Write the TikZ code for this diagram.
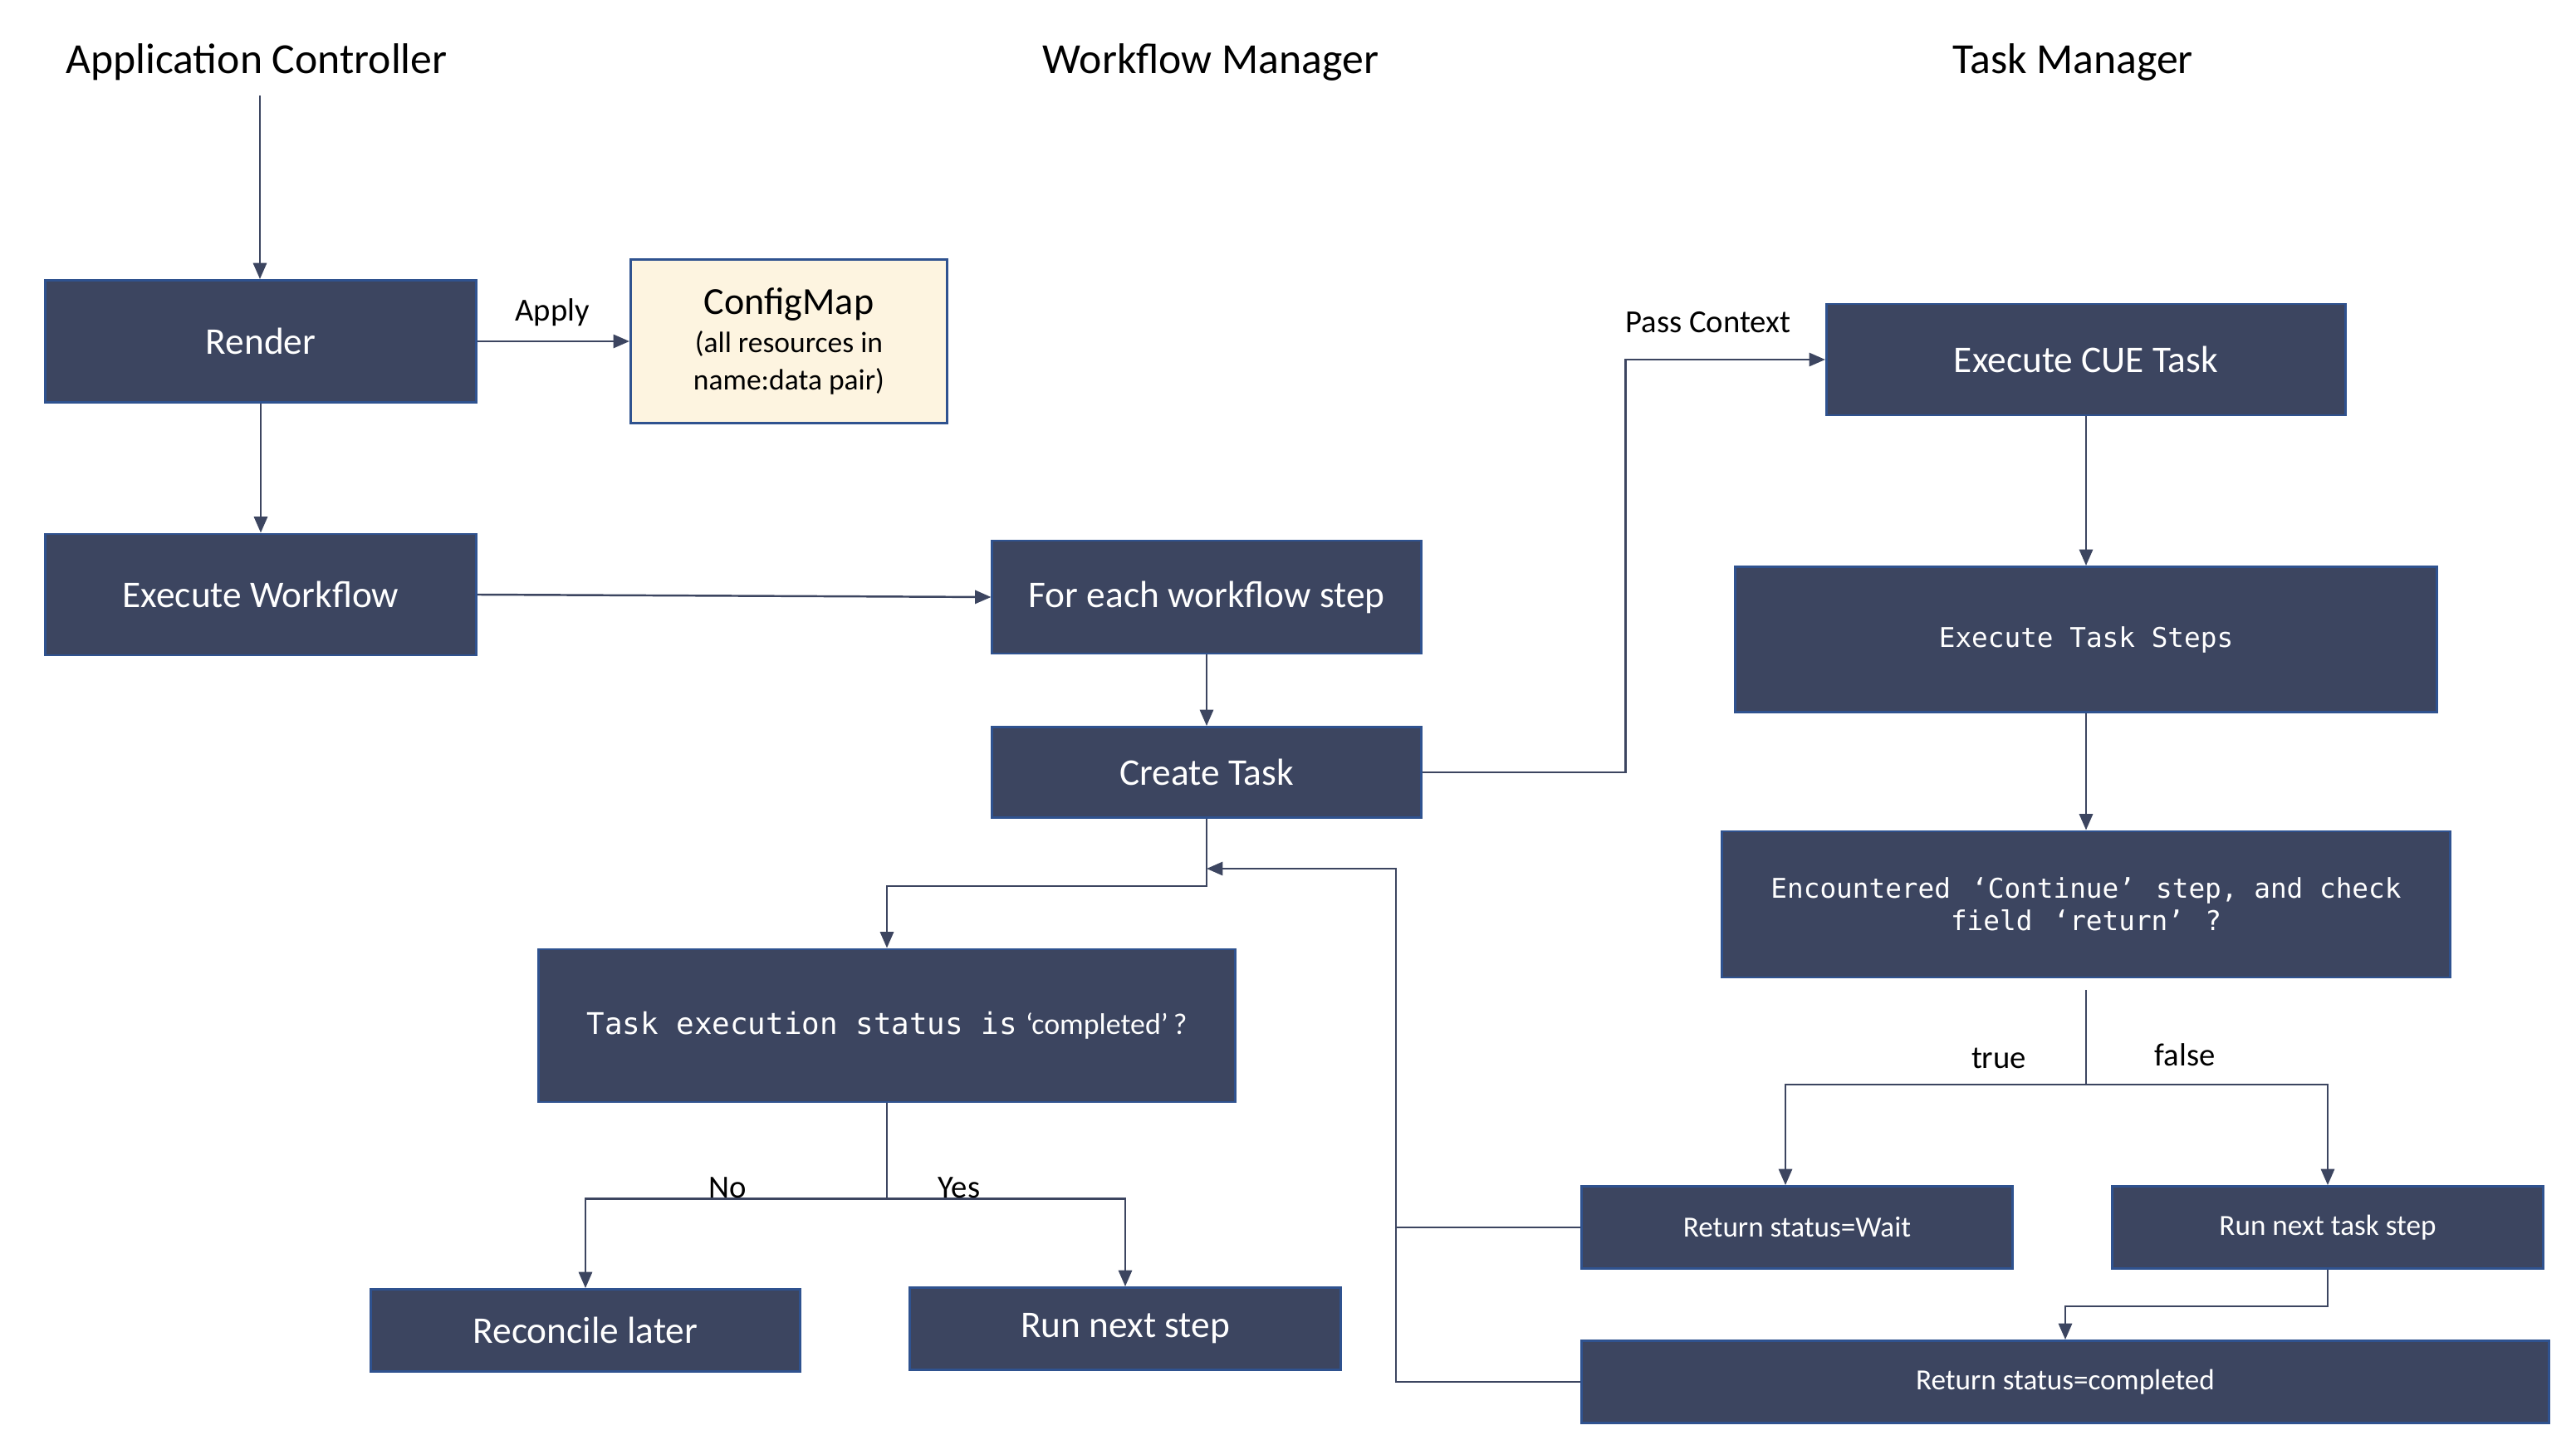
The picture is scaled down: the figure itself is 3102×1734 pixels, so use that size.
\documentclass[tikz,border=0pt]{standalone}
\usepackage{fontspec}
\setmainfont{Carlito}
\setmonofont{DejaVu Sans Mono}
\usetikzlibrary{arrows.meta,calc}

\definecolor{slate}{HTML}{3C4560}
\definecolor{edgeblue}{HTML}{2F528F}
\definecolor{cream}{HTML}{FDF4E0}
\definecolor{wire}{HTML}{3C4560}

\newcommand{\fs}[1]{\fontsize{#1}{1.2\dimexpr #1pt\relax}\selectfont}

\tikzset{
  dbox/.style={draw=edgeblue, line width=0.8pt, fill=slate, text=white,
    inner sep=0pt, align=center, font=\fs{12.9}},
  smallbox/.style={dbox, font=\fs{10}},
  monobox/.style={dbox, font=\ttfamily\fs{9.3}},
  notebox/.style={draw=edgeblue, line width=0.8pt, fill=cream, text=black,
    inner sep=0pt, align=center},
  heading/.style={font=\fs{14.7}, text=black},
  lbl/.style={font=\fs{11}, text=black, inner sep=1pt},
  wireline/.style={draw=wire, line width=0.7pt},
  arr/.style={wireline, -{Triangle[length=5.5pt, width=4.6pt]}},
}

\begin{document}
\begin{tikzpicture}[x=0.01cm, y=-0.01cm]
\useasboundingbox (0,0) rectangle (3102,1734);

% column headings
\node[heading] (hApp) at (309,75) {Application Controller};
\node[heading] (hWf)  at (1458,75) {Workflow Manager};
\node[heading] (hTm)  at (2496,75) {Task Manager};

% application controller
\node[dbox, minimum width=5.19cm, minimum height=1.47cm] (render) at (314,411) {Render};
\node[dbox, minimum width=5.19cm, minimum height=1.46cm] (exwf) at (314,716) {Execute Workflow};
\node[notebox, minimum width=3.81cm, minimum height=1.97cm] (cmap) at (950,411)
  {{\fs{13.1}ConfigMap}\\[1pt]{\fs{10.1}(all resources in}\\[1pt]{\fs{10.1}name:data pair)}};

% workflow manager
\node[dbox, minimum width=5.16cm, minimum height=1.36cm] (foreach) at (1453,719) {For each workflow step};
\node[dbox, minimum width=5.16cm, minimum height=1.09cm] (create) at (1453,930) {Create Task};
\node[dbox, minimum width=8.38cm, minimum height=1.84cm] (status) at (1068,1235)
  {{\ttfamily\fs{10.2}Task execution status is} {\fs{10.2}‘completed’\,?}};
\node[dbox, minimum width=5.16cm, minimum height=0.99cm] (recon) at (705,1602) {Reconcile later};
\node[dbox, minimum width=5.18cm, minimum height=0.99cm] (runnext) at (1355,1600) {Run next step};

% task manager
\node[dbox, minimum width=6.25cm, minimum height=1.34cm] (cue) at (2512,433) {Execute CUE Task};
\node[monobox, minimum width=8.44cm, minimum height=1.75cm] (steps) at (2512,770) {Execute Task Steps};
\node[monobox, minimum width=8.76cm, minimum height=1.76cm] (cont) at (2512,1089)
  {Encountered \,‘Continue’\, step, and check\\field \,‘return’\, ?};
\node[smallbox, minimum width=5.18cm, minimum height=0.99cm] (rwait) at (2164,1478) {Return status=Wait};
\node[smallbox, minimum width=5.18cm, minimum height=0.99cm] (rnext) at (2803,1478) {Run next task step};
\node[smallbox, minimum width=11.65cm, minimum height=0.99cm] (rdone) at (2487,1664) {Return status=completed};

% helper points on the wires
\coordinate (entry) at (313,115);
\coordinate (join) at (1453,1046);
\coordinate (bus) at (1681,1478);
\coordinate (fork) at (2512,1192);
\coordinate (split) at (2512,1306);

% application controller flow
\draw[arr] (entry) -- (entry |- render.north);
\draw[arr] (render.east) -- (cmap.west);
\node[lbl] (apply) at (665,376) {Apply};
\draw[arr] (render) -- (exwf);
\draw[arr] (exwf.east) -- (foreach.west);

% workflow manager flow
\draw[arr] (foreach) -- (create);
\draw[arr] (create.east) -- ++(245,0) |- (cue.west);
\node[lbl] (pass) at (2057,388) {Pass Context};
\draw[arr] (create.south) -- ++(0,81) -| (status.north);
\draw[arr] (status.south) -- ++(0,115) -| (recon.north);
\draw[arr] (status.south) -- ++(0,115) -| (runnext.north);
\node[lbl] (no) at (876,1430) {No};
\node[lbl] (yes) at (1155,1430) {Yes};

% task manager flow
\draw[arr] (cue) -- (steps);
\draw[arr] (steps) -- (cont);
\draw[wireline] (fork) -- (split);
\draw[arr] (split) -| ($(rwait.north)+(-14,0)$);
\draw[arr] (split) -| (rnext.north);
\node[lbl] (ltrue) at (2407,1274) {true};
\node[lbl] (lfalse) at (2631,1270) {false};
\draw[arr] (rnext.south) -- ++(0,44) -| (rdone.north);

% results fed back to the workflow manager
\draw[wireline] (rdone.west) -| (bus);
\draw[arr] (rwait.west) -- (bus) |- (join);
\end{tikzpicture}
\end{document}
